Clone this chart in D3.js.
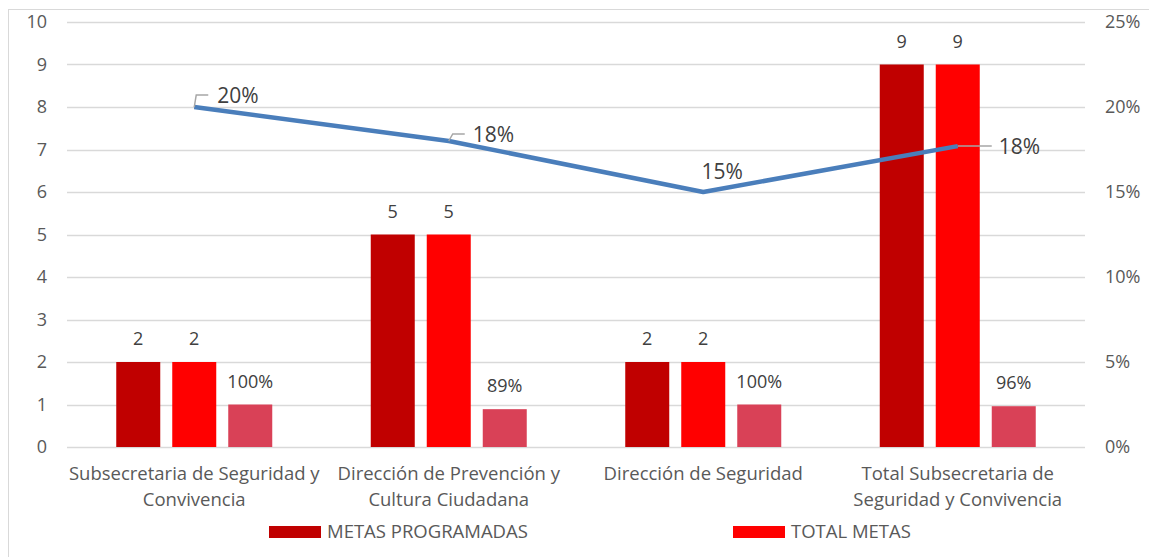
<!DOCTYPE html>
<html><head><meta charset="utf-8">
<script src="https://cdn.jsdelivr.net/npm/d3@7"></script>
<style>body{margin:0;background:#fff}svg{display:block}text{font-family:"Open Sans",sans-serif}</style>
</head><body><svg id="c" width="1149" height="557"></svg>
<script>
const categories = [["Subsecretaria de Seguridad y","Convivencia"],["Dirección de Prevención y","Cultura Ciudadana"],["Dirección de Seguridad"],["Total Subsecretaria de","Seguridad y Convivencia"]];
const metasProgramadas = [2,5,2,9];
const totalMetas = [2,5,2,9];
const cumplimiento = [1.00,0.89,1.00,0.96];
const cumplimientoLabels = ["100%","89%","100%","96%"];
const avance = [0.20,0.18,0.15,0.177];
const avanceLabels = ["20%","18%","15%","18%"];
const leftTicks = [0,1,2,3,4,5,6,7,8,9,10];
const rightTicks = [0,0.05,0.10,0.15,0.20,0.25];
const seriesNames = ["METAS PROGRAMADAS","TOTAL METAS"];

const svg = d3.select("#c");
const L=67,R=1085,T=22,B=447;
const FF="Open Sans";
svg.append("rect").attr("x",8.5).attr("y",9.5).attr("width",1150).attr("height",560).attr("fill","none").attr("stroke","#D9D9D9");
const x = d3.scaleBand().domain(d3.range(categories.length)).range([L,R]);
const y = d3.scaleLinear().domain([0,10]).range([B,T]);
const y2 = d3.scaleLinear().domain([0,0.25]).range([B,T]);
const tc="#595959", lc="#404040";
svg.append("g").selectAll("line").data(leftTicks).join("line")
 .attr("x1",L).attr("x2",R).attr("y1",d=>Math.round(y(d))+0.5).attr("y2",d=>Math.round(y(d))+0.5)
 .attr("stroke","#D9D9D9").attr("stroke-width",1.5);
const ax=svg.append("g").attr("transform",`translate(${L},0)`).call(d3.axisLeft(y).tickValues(leftTicks).tickSize(0).tickPadding(20));
ax.select(".domain").remove();
ax.selectAll("text").attr("font-size",18).attr("fill",tc).style("font-family",FF);
const ax2=svg.append("g").attr("transform",`translate(${R},0)`).call(d3.axisRight(y2).tickValues(rightTicks).tickSize(0).tickPadding(20).tickFormat(d3.format(".0%")));
ax2.select(".domain").remove();
ax2.selectAll("text").attr("font-size",18).attr("fill",tc).style("font-family",FF);
const bw=44, step=56;
const series=[{v:metasProgramadas,c:"#C00000",lab:d=>d},{v:totalMetas,c:"#FF0000",lab:d=>d},{v:cumplimiento,c:"#D94157",lab:(d,i)=>cumplimientoLabels[i]}];
series.forEach((s,k)=>{
  const g=svg.append("g");
  const cx=i=>x(i)+x.bandwidth()/2+(k-1)*step;
  g.selectAll("rect").data(s.v).join("rect")
   .attr("x",(d,i)=>cx(i)-bw/2).attr("width",bw).attr("y",d=>y(d)).attr("height",d=>B-y(d)).attr("fill",s.c);
  g.selectAll("text").data(s.v).join("text")
   .attr("x",(d,i)=>cx(i)).attr("y",d=>y(d)-17).attr("text-anchor","middle").attr("font-size",18).attr("fill",lc)
   .text((d,i)=>s.lab(d,i));
});
const px=i=>x(i)+x.bandwidth()/2;
svg.append("path").datum(avance).attr("fill","none").attr("stroke","#4A7EBB").attr("stroke-width",4.5).attr("stroke-linejoin","round")
 .attr("d",d3.line().x((d,i)=>px(i)).y(d=>y2(d)));
const lead=[[[0,0],[2,-12],[14,-12]],[[0,0],[4,-7],[16,-7]],null,[[0,0],[34,0]]];
const loff=[[23,-4],[24,1],[0,-13],[41,8]];
avance.forEach((d,i)=>{
  const X=px(i),Y=y2(d);
  if(lead[i]) svg.append("path").attr("d",d3.line()(lead[i].map(p=>[X+p[0],Y+p[1]]))).attr("fill","none").attr("stroke","#A6A6A6").attr("stroke-width",1.5);
  svg.append("text").attr("x",X+loff[i][0]).attr("y",Y+loff[i][1]).attr("font-size",21).attr("fill",lc)
   .attr("text-anchor",i==2?"middle":"start").text(avanceLabels[i]).attr("dx",i==2?19:0);
});
categories.forEach((c,i)=>{
  c.forEach((t,j)=>svg.append("text").attr("x",px(i)).attr("y",480+j*26).attr("text-anchor","middle").attr("font-size",18.5).attr("fill",tc).text(t));
});
const lg=[[269,seriesNames[0],"#C00000"],[733,seriesNames[1],"#FF0000"]];
lg.forEach(([lx,t,c])=>{
  svg.append("rect").attr("x",lx).attr("y",526).attr("width",52).attr("height",12).attr("fill",c);
  svg.append("text").attr("x",lx+58).attr("y",538).attr("font-size",18.5).attr("fill",tc).text(t);
});
</script></body></html>
